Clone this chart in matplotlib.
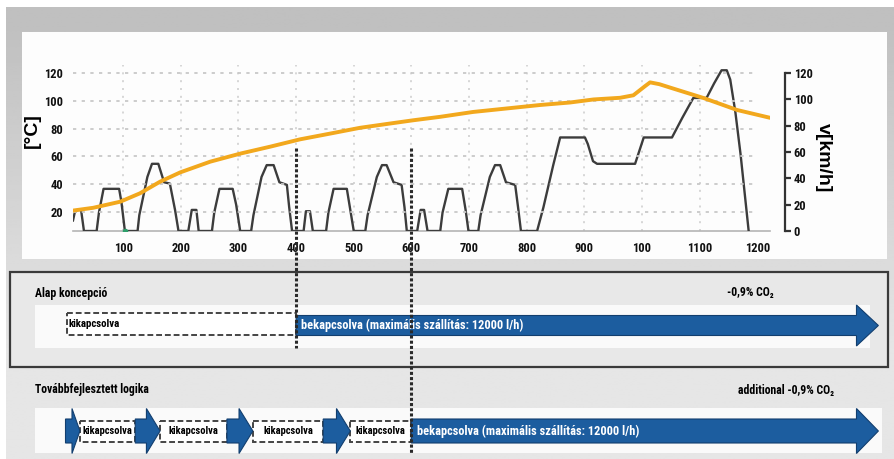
import numpy as np
import matplotlib
matplotlib.use('Agg')
import matplotlib.pyplot as plt
from matplotlib.patches import Rectangle, Polygon
from matplotlib.transforms import blended_transform_factory

# NEDC speed trace [s, km/h]
speed_t = [13, 16, 20, 27, 32, 54, 58, 66, 93, 97, 103, 125, 128, 142, 150, 161, 171, 181, 190, 196,
           213, 219, 227, 231, 254, 258, 267, 290, 296, 303, 322, 326, 340, 349, 361, 371, 384, 388, 393,
           413, 417, 424, 429, 452, 456, 465, 488, 494, 500, 520, 524, 540, 549, 557, 569, 583, 588, 592,
           610, 616, 622, 628, 650, 654, 664, 688, 694, 699, 716, 720, 736, 745, 754, 764, 780, 785, 790,
           818, 829, 846, 858, 901, 906, 915, 922, 988, 1003, 1052, 1070, 1089, 1112, 1125, 1138, 1147,
           1153, 1162, 1171, 1185]
speed_v = [8, 14, 16, 16, 0, 0, 14, 32, 32, 22, 0, 0, 12, 41, 51, 51, 37, 36, 16, 0,
           0, 16, 16, 0, 0, 14, 32, 32, 20, 0, 0, 12, 41, 50, 50, 37, 35, 18, 0,
           0, 15, 15, 0, 0, 14, 32, 32, 16, 0, 0, 12, 41, 50, 50, 37, 35, 18, 0,
           0, 16, 16, 0, 0, 14, 32, 32, 16, 0, 0, 12, 41, 50, 50, 37, 35, 18, 0,
           0, 18, 50, 71, 71, 66, 53, 51, 51, 71, 71, 86, 101, 101, 112, 122, 122,
           115, 90, 58, 0]

# coolant temperature [s, °C]
temp_t = [13, 48, 95, 129, 164, 199, 251, 303, 355, 407, 460, 511, 560, 603, 650, 707, 765, 823,
          875, 916, 962, 985, 1005, 1014, 1030, 1049, 1107, 1165, 1222]
temp_c = [21, 23, 27.4, 33.4, 41.8, 48.5, 56.2, 62, 67, 72.3, 76.5, 80.6, 83.5, 86, 88.5, 92, 94.5, 97,
          98.8, 101, 102.2, 104, 110.5, 113.3, 112, 109.5, 102, 93.4, 87.8]

x_ticks = [100, 200, 300, 400, 500, 600, 700, 800, 900, 1000, 1100, 1200]
x_labels = ['100', '200', '300', '400', '500', '600', '700', '800', '900', '100', '1100', '1200']
temp_ticks = [20, 40, 60, 80, 100, 120]
speed_ticks = [0, 20, 40, 60, 80, 100, 120]

# pump switching [s]
base_on = 400
adv_on = 600
adv_pulses = [(0, 25), (121, 164), (280, 325), (447, 494)]
arrow_end = 1410

off_label = 'kikapcsolva'
on_label = 'bekapcsolva (maximális szállítás: 12000 l/h)'

NARROW = ['Roboto Condensed', 'DejaVu Sans']
WIDE = ['Liberation Sans', 'DejaVu Sans']
BLUE = '#1c5d9f'
DARK = '#333333'

fig = plt.figure(figsize=(8.94, 4.59), dpi=100)

# background layer in pixel coords
bg = fig.add_axes([0, 0, 1, 1], zorder=0)
bg.set_xlim(0, 894)
bg.set_ylim(459, 0)
bg.axis('off')
yy = np.linspace(0, 459, 200)
shade = 0.75 + 0.15 * np.clip((yy - 20) / 330, 0, 1)
bg.imshow(np.repeat(shade[:, None], 2, axis=1), cmap='gray', vmin=0, vmax=1,
          extent=[0, 894, 459, 0], aspect='auto', zorder=0)
bg.add_patch(Rectangle((0, 0), 894, 7, fc='white', ec='none', zorder=1))
bg.add_patch(Rectangle((0, 0), 6, 459, fc='white', ec='none', zorder=1))
bg.add_patch(Rectangle((22, 32), 865, 227, fc='#fdfdfd', ec='none', zorder=1))
bg.add_patch(Rectangle((10, 272), 878, 95, fc='#e8e8e8', ec='#3a3a3a', lw=1.6, zorder=1))
bg.add_patch(Rectangle((35, 305), 835, 43, fc='#fafafa', ec='none', zorder=2))
bg.add_patch(Rectangle((35, 408), 847, 45, fc='#fafafa', ec='none', zorder=2))

# chart
ax = fig.add_axes([73 / 894, 1 - 231 / 459, 697 / 894, 166 / 459], zorder=1)
ax.patch.set_alpha(0)
ax2 = ax.twinx()
ax2.patch.set_alpha(0)

ax.set_xlim(13, 1222)
ax.set_ylim(0, 126)
ax2.set_ylim(6.3, 125.8)

ax.vlines(x_ticks[:-1], 0, 126, colors='#d0d0d0', linestyles=(0, (1.2, 3.5)), lw=1.2, zorder=0)
ax2.hlines(temp_ticks, 13, 1200, colors='#c8c8c8', linestyles=(0, (1.8, 3)), lw=1.3, zorder=0)

ax.plot(speed_t, speed_v, color='#3c3c3c', lw=1.7, zorder=3)
ax.plot([103], [0], 'o', color='#2e9e6a', ms=3, zorder=4)
ax2.plot(temp_t, temp_c, color='#f2a81d', lw=2.8, solid_capstyle='round', zorder=3)

for s in ['top', 'left']:
    ax.spines[s].set_visible(False)
for s in ax2.spines.values():
    s.set_visible(False)
ax.spines['bottom'].set_color('#b4b4b4')
ax.spines['bottom'].set_linewidth(1.2)
ax.spines['right'].set_position(('outward', 11))
ax.spines['right'].set_bounds(0, 120)
ax.spines['right'].set_color(DARK)
ax.spines['right'].set_linewidth(1.6)

ax.yaxis.tick_right()
ax.set_yticks(speed_ticks)
ax.set_xticks(x_ticks)
ax.set_xticklabels(x_labels)
ax.tick_params(axis='y', direction='out', length=4, width=1.6, color=DARK, pad=2)
ax.tick_params(axis='x', length=0, pad=8)
ax2.yaxis.tick_left()
ax2.set_yticks(temp_ticks)
ax2.tick_params(axis='y', length=0, pad=7)
for lab in ax.get_xticklabels() + ax.get_yticklabels() + ax2.get_yticklabels():
    lab.set_family(NARROW)
    lab.set_fontweight('bold')
    lab.set_fontsize(9)
    lab.set_color('#111111')

bg.text(32, 131, '[°C]', rotation=90, ha='center', va='center', fontsize=14,
        fontweight='bold', family=WIDE, zorder=5)
bg.text(823, 158, 'v[km/h]', rotation=270, ha='center', va='center', fontsize=14,
        fontweight='bold', family=WIDE, zorder=5)

# lower schematic: x in chart seconds, y in pixels
tr = blended_transform_factory(ax.transData, bg.transData)


def arrow(x0, x1, yc, body, head, head_len):
    pts = [(x0, yc - body), (x1 - head_len, yc - body), (x1 - head_len, yc - head), (x1, yc),
           (x1 - head_len, yc + head), (x1 - head_len, yc + body), (x0, yc + body)]
    bg.add_patch(Polygon(pts, closed=True, transform=tr, fc=BLUE, ec='#123e6e', lw=0.8, zorder=5))


def off_box(x0, x1, yc, half):
    bg.add_patch(Rectangle((x0, yc - half), x1 - x0, 2 * half, transform=tr, fc='white',
                           ec='#444444', lw=1.4, ls=(0, (3, 1.5)), zorder=4))


txt = dict(family=NARROW, fontweight='bold', va='center', zorder=6)

# Alap koncepció
bg.text(35, 293, 'Alap koncepció', fontsize=8.5, **txt)
bg.text(727, 293, '-0,9% CO₂', fontsize=8.5, **txt)
off_box(3, base_on, 324, 11)
bg.text(6, 324, off_label, transform=tr, fontsize=7.8, **txt)
arrow(base_on, arrow_end, 325.5, 10, 20.5, 38)
bg.text(base_on + 8, 325.5, on_label, transform=tr, fontsize=8.9, color='white', **txt)

# Továbbfejlesztett logika
bg.text(35, 390, 'Továbbfejlesztett logika', fontsize=8.5, **txt)
bg.text(738, 391, 'additional -0,9% CO₂', fontsize=8.5, **txt)
ends = [p[1] for p in adv_pulses]
starts = [p[0] for p in adv_pulses[1:]] + [adv_on]
for a, b in zip(ends, starts):
    off_box(a, b, 431, 10.5)
    bg.text((a + b) / 2, 431, off_label, transform=tr, fontsize=7.6, ha='center', **txt)
for a, b in adv_pulses:
    arrow(a, b, 431, 12, 22.5, min(24, (b - a) * 0.55))
arrow(adv_on, arrow_end, 431, 12, 22.5, 38)
bg.text(adv_on + 10, 431, on_label, transform=tr, fontsize=8.9, color='white', **txt)

# switching markers across chart and schematic
ov = fig.add_axes([0, 0, 1, 1], zorder=3)
ov.set_xlim(0, 894)
ov.set_ylim(459, 0)
ov.axis('off')
trv = blended_transform_factory(ax.transData, ov.transData)
ov.plot([base_on, base_on], [148, 348], transform=trv, color='#2a2a2a', lw=2.2, ls=(0, (1, 0.7)))
ov.plot([adv_on, adv_on], [148, 453], transform=trv, color='#2a2a2a', lw=2.2, ls=(0, (1, 0.7)))

fig.savefig('out.png', dpi=100)
